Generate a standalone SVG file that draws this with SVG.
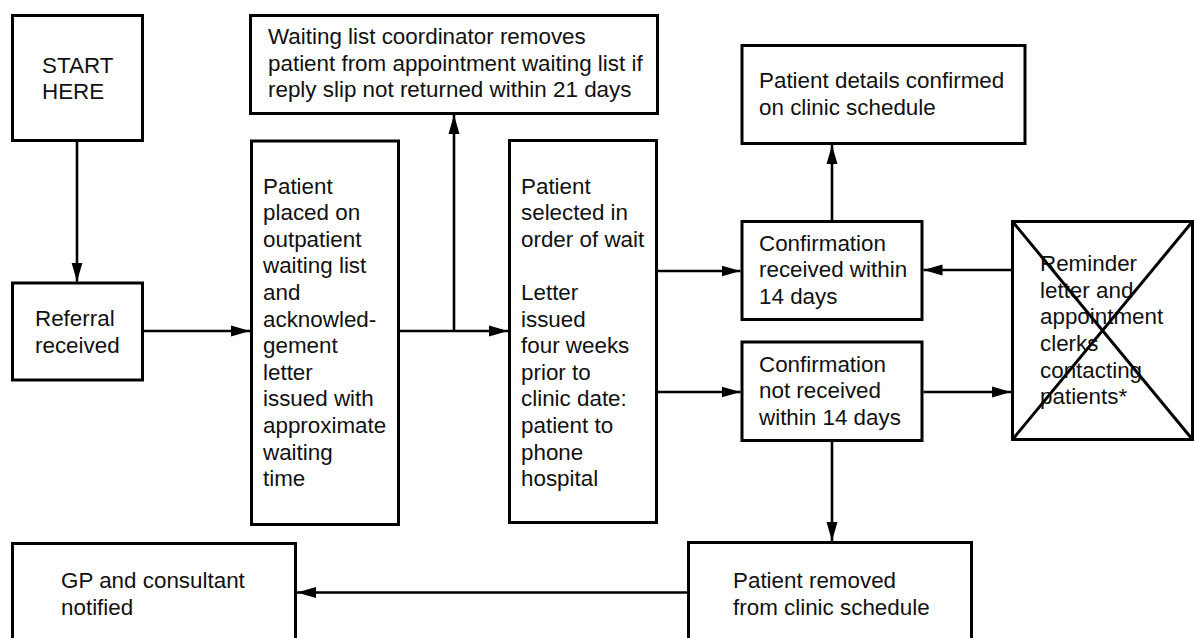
<svg xmlns="http://www.w3.org/2000/svg" width="1194" height="638" viewBox="0 0 1194 638">
<style>
.box{fill:#fff;stroke:#000;stroke-width:3}
.lbl{font-family:"Liberation Sans",Arial,Helvetica,sans-serif;font-size:22.4px;fill:#111}
.conn{fill:none;stroke:#000;stroke-width:2.6}
.x{stroke:#000;stroke-width:3}
</style>
<defs>
<marker id="ah" markerUnits="userSpaceOnUse" markerWidth="20" markerHeight="12" refX="19" refY="6" orient="auto">
<path d="M0,0.5 L19,6 L0,11.5 z" fill="#000"/>
</marker>
</defs>
<rect width="1194" height="638" fill="#fff"/>

<g id="start">
<rect class="box" x="12.5" y="15.5" width="130" height="125"/>
<text class="lbl" x="42" y="73">START</text>
<text class="lbl" x="42" y="99">HERE</text>
</g>

<g id="referral">
<rect class="box" x="12.5" y="283" width="130" height="97"/>
<text class="lbl" x="35" y="326">Referral</text>
<text class="lbl" x="35" y="352.5">received</text>
</g>

<g id="waitlist-coordinator">
<rect class="box" x="250.5" y="15.5" width="407" height="98"/>
<text class="lbl" x="268" y="44">Waiting list coordinator removes</text>
<text class="lbl" x="268" y="70.7">patient from appointment waiting list if</text>
<text class="lbl" x="268" y="97.3">reply slip not returned within 21 days</text>
</g>

<g id="patient-placed">
<rect class="box" x="251.5" y="141" width="147" height="383.5"/>
<text class="lbl" x="263" y="193.5">Patient</text>
<text class="lbl" x="263" y="220.1">placed on</text>
<text class="lbl" x="263" y="246.7">outpatient</text>
<text class="lbl" x="263" y="273.3">waiting list</text>
<text class="lbl" x="263" y="299.9">and</text>
<text class="lbl" x="263" y="326.5">acknowled-</text>
<text class="lbl" x="263" y="353.1">gement</text>
<text class="lbl" x="263" y="379.7">letter</text>
<text class="lbl" x="263" y="406.3">issued with</text>
<text class="lbl" x="263" y="432.9">approximate</text>
<text class="lbl" x="263" y="459.5">waiting</text>
<text class="lbl" x="263" y="486.1">time</text>
</g>

<g id="patient-selected">
<rect class="box" x="509.5" y="140.5" width="147" height="382"/>
<text class="lbl" x="521" y="193.5">Patient</text>
<text class="lbl" x="521" y="220.1">selected in</text>
<text class="lbl" x="521" y="246.7">order of wait</text>
<text class="lbl" x="521" y="299.9">Letter</text>
<text class="lbl" x="521" y="326.5">issued</text>
<text class="lbl" x="521" y="353.1">four weeks</text>
<text class="lbl" x="521" y="379.7">prior to</text>
<text class="lbl" x="521" y="406.3">clinic date:</text>
<text class="lbl" x="521" y="432.9">patient to</text>
<text class="lbl" x="521" y="459.5">phone</text>
<text class="lbl" x="521" y="486.1">hospital</text>
</g>

<g id="patient-details">
<rect class="box" x="742" y="45.5" width="283" height="98"/>
<text class="lbl" x="759" y="88.3">Patient details confirmed</text>
<text class="lbl" x="759" y="115">on clinic schedule</text>
</g>

<g id="conf-received">
<rect class="box" x="742" y="221.5" width="180" height="98"/>
<text class="lbl" x="759" y="250.7">Confirmation</text>
<text class="lbl" x="759" y="277.3">received within</text>
<text class="lbl" x="759" y="304">14 days</text>
</g>

<g id="conf-not-received">
<rect class="box" x="742" y="342" width="180" height="98.5"/>
<text class="lbl" x="759" y="371.7">Confirmation</text>
<text class="lbl" x="759" y="398.3">not received</text>
<text class="lbl" x="759" y="425">within 14 days</text>
</g>

<g id="reminder">
<rect class="box" x="1012.5" y="221.5" width="180" height="218"/>
<text class="lbl" x="1040" y="271">Reminder</text>
<text class="lbl" x="1040" y="297.7">letter and</text>
<text class="lbl" x="1040" y="324.3">appointment</text>
<text class="lbl" x="1040" y="351">clerks</text>
<text class="lbl" x="1040" y="377.7">contacting</text>
<text class="lbl" x="1040" y="404.3">patients*</text>
<line class="x" x1="1012.5" y1="221.5" x2="1192.5" y2="439.5"/>
<line class="x" x1="1192.5" y1="221.5" x2="1012.5" y2="439.5"/>
</g>

<g id="patient-removed">
<rect class="box" x="688.5" y="542.5" width="283" height="120"/>
<text class="lbl" x="733" y="587.7">Patient removed</text>
<text class="lbl" x="733" y="614.5">from clinic schedule</text>
</g>

<g id="gp-notified">
<rect class="box" x="12.5" y="543.5" width="283" height="120"/>
<text class="lbl" x="61" y="588.3">GP and consultant</text>
<text class="lbl" x="61" y="614.5">notified</text>
</g>

<g id="connectors">
<line class="conn" x1="77" y1="142" x2="77" y2="281.5" marker-end="url(#ah)"/>
<line class="conn" x1="144" y1="331" x2="250" y2="331" marker-end="url(#ah)"/>
<line class="conn" x1="400" y1="331" x2="508" y2="331" marker-end="url(#ah)"/>
<line class="conn" x1="454" y1="331" x2="454" y2="115" marker-end="url(#ah)"/>
<line class="conn" x1="658" y1="271" x2="740.5" y2="271" marker-end="url(#ah)"/>
<line class="conn" x1="658" y1="392" x2="740.5" y2="392" marker-end="url(#ah)"/>
<line class="conn" x1="832" y1="220" x2="832" y2="145" marker-end="url(#ah)"/>
<line class="conn" x1="1011" y1="270" x2="923.5" y2="270" marker-end="url(#ah)"/>
<line class="conn" x1="923.5" y1="392" x2="1011" y2="392" marker-end="url(#ah)"/>
<line class="conn" x1="832" y1="442" x2="832" y2="541" marker-end="url(#ah)"/>
<line class="conn" x1="687" y1="592.5" x2="297" y2="592.5" marker-end="url(#ah)"/>
</g>
</svg>
